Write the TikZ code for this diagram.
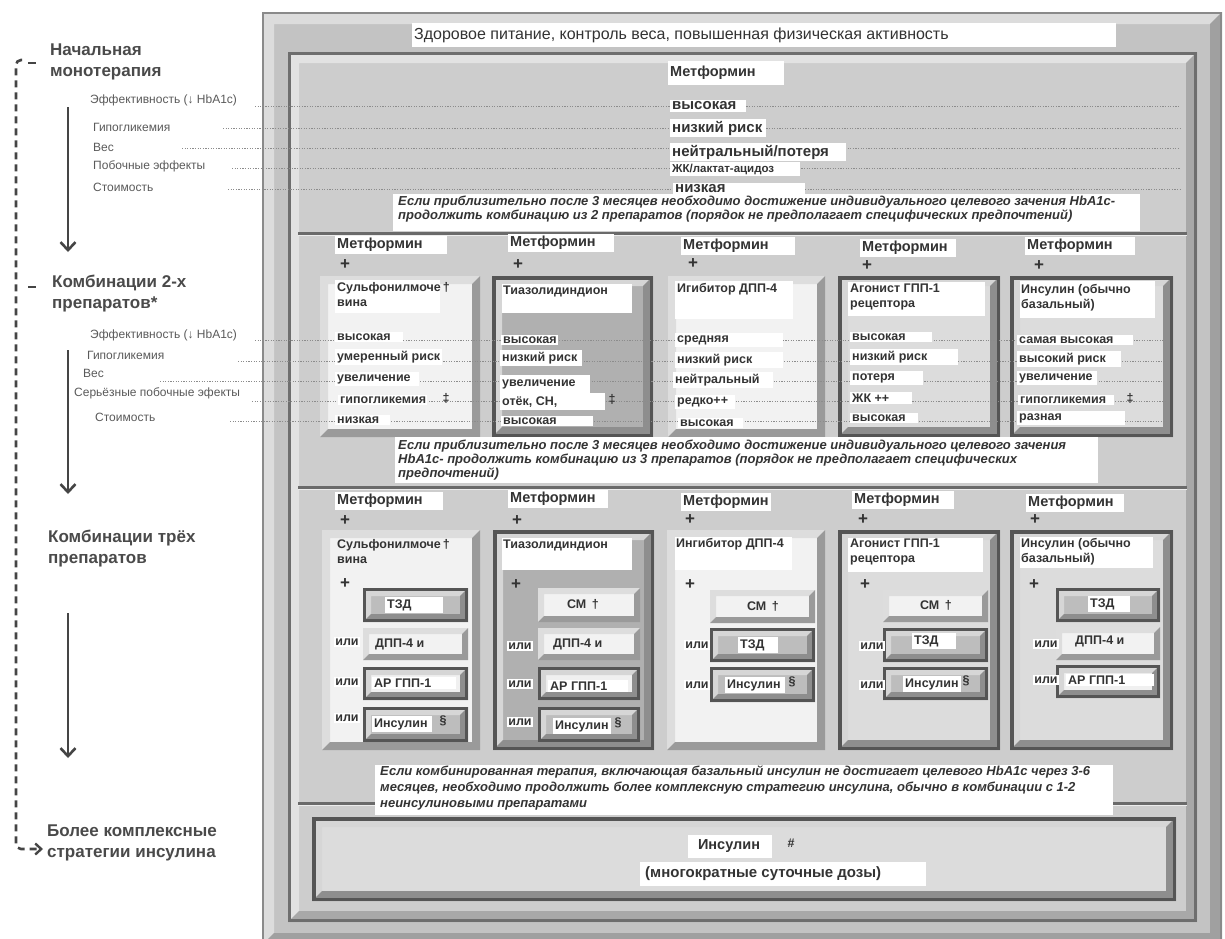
\documentclass[tikz,border=0pt]{standalone}
\usepackage{fontspec}
\setmainfont{Liberation Sans}
\usetikzlibrary{arrows.meta}
\definecolor{hdcol}{HTML}{4A4A4A}
\definecolor{lblcol}{HTML}{5A5A5A}
\definecolor{txtcol}{HTML}{333333}
\definecolor{dotcol}{HTML}{8C8C8C}
\definecolor{arrcol}{HTML}{454545}
\definecolor{ofill}{HTML}{C3C3C3}
\definecolor{olight}{HTML}{DCDCDC}
\definecolor{odark}{HTML}{A0A0A0}
\definecolor{oline}{HTML}{8A8A8A}
\definecolor{ifill}{HTML}{CDCDCD}
\definecolor{ilight}{HTML}{E2E2E2}
\definecolor{idark}{HTML}{A8A8A8}
\definecolor{iline}{HTML}{6E6E6E}
\definecolor{bxline}{HTML}{555555}
\definecolor{lbfill}{HTML}{F2F2F2}
\definecolor{lblt}{HTML}{DDDDDD}
\definecolor{lbdk}{HTML}{9A9A9A}
\definecolor{dbgray}{HTML}{B0B0B0}
\definecolor{dblight}{HTML}{DCDCDC}
\definecolor{dblt}{HTML}{D6D6D6}
\definecolor{dbdk}{HTML}{8E8E8E}
\definecolor{smgray}{HTML}{BDBDBD}
\definecolor{smwhite}{HTML}{F0F0F0}
\definecolor{sepcol}{HTML}{6A6A6A}
\newcommand{\rsHd}{\fontsize{17}{21}\selectfont\bfseries}
\newcommand{\rsLb}{\fontsize{12}{14}\selectfont}
\newcommand{\rsVf}{\fontsize{12.5}{15}\selectfont\bfseries}
\newcommand{\rsMf}{\fontsize{14.5}{17}\selectfont\bfseries}
\newcommand{\rsPf}{\fontsize{17}{17}\selectfont\bfseries}
\newcommand{\rsNf}{\fontsize{13}{14}\selectfont\bfseries\itshape}
\newcommand{\rsTf}{\fontsize{16}{18}\selectfont}
\newcommand{\rsRf}{\fontsize{15}{17}\selectfont\bfseries}
% bevel box: x1 y1 x2 y2 width light dark fill
\newcommand{\rsBvl}[8]{%
  \fill[#8] (#1,#2) rectangle (#3,#4);
  \fill[#6] (#1,#2) -- (#3,#2) -- (#3-#5,#2+#5) -- (#1+#5,#2+#5) -- (#1+#5,#4-#5) -- (#1,#4) -- cycle;
  \fill[#7] (#3,#2) -- (#3,#4) -- (#1,#4) -- (#1+#5,#4-#5) -- (#3-#5,#4-#5) -- (#3-#5,#2+#5) -- cycle;
}
\newcommand{\rsLbox}[4]{\rsBvl{#1}{#2}{#3}{#4}{8}{lblt}{lbdk}{lbfill}}
\newcommand{\rsDbox}[5]{\rsBvl{#1}{#2}{#3}{#4}{10}{dblt}{dbdk}{#5}\draw[bxline,line width=3.5pt] (#1+1.75,#2+1.75) rectangle (#3-1.75,#4-1.75);}
\newcommand{\rsLsm}[4]{\rsBvl{#1}{#2}{#3}{#4}{6}{lblt}{lbdk}{lbfill}}
\newcommand{\rsDsm}[5]{\rsBvl{#1}{#2}{#3}{#4}{8}{dblt}{dbdk}{#5}\draw[bxline,line width=3pt] (#1+1.5,#2+1.5) rectangle (#3-1.5,#4-1.5);}
\newcommand{\rsP}[4]{\fill[white] (#1,#2) rectangle (#3,#4);}
\newcommand{\rsV}[5]{\node[val] (#1) at (#2,#3) {\makebox[#4pt][l]{#5}};}
\newcommand{\rsOr}[3]{\node[orst] (#1) at (#2,#3) {или};}
\tikzset{
  hd/.style={font=\rsHd, text=hdcol, align=left, anchor=west, inner sep=0pt},
  lbl/.style={font=\rsLb, text=lblcol, anchor=west, inner sep=0pt},
  val/.style={font=\rsVf, text=txtcol, fill=white, anchor=west, inner xsep=2pt, inner ysep=2pt},
  txt/.style={font=\rsVf, text=txtcol, anchor=north west, align=left, inner sep=0pt},
  met/.style={font=\rsMf, text=txtcol, fill=white, anchor=west, inner xsep=2pt, inner ysep=2.5pt},
  pl/.style={font=\rsPf, text=txtcol, inner sep=0pt},
  orst/.style={font=\rsVf, text=txtcol, fill=white, inner xsep=1.5pt, inner ysep=2pt},
  notest/.style={font=\rsNf, text=txtcol, anchor=north west, align=left, inner sep=0pt},
  r1v/.style={font=\rsRf, text=txtcol, fill=white, anchor=west, inner xsep=2pt, inner ysep=2pt},
  dotln/.style={draw=dotcol, line width=0.9pt, dash pattern=on 1.2pt off 1.4pt},
  arr/.style={draw=arrcol, line width=2.6pt, -{Straight Barb[length=8pt,width=15pt,line width=2.6pt]}},
  dashln/.style={draw=arrcol, line width=2.6pt, dash pattern=on 7pt off 5pt},
  sepln/.style={draw=sepcol, line width=3pt},
  sym/.style={font=\rsVf, text=txtcol, inner sep=0pt},
}
\begin{document}
\begin{tikzpicture}[x=1pt,y=-1pt]
\useasboundingbox (0,0) rectangle (1225,938);
\fill[white] (0,0) rectangle (1225,938);
% ---------- frames
\rsBvl{262}{12}{1222}{945}{12}{olight}{odark}{ofill}
\draw[oline,line width=2pt] (263,13) rectangle (1221,944);
\rsBvl{288}{52}{1197}{922}{11}{ilight}{idark}{ifill}
\draw[iline,line width=3pt] (289.5,53.5) rectangle (1195.5,920.5);
% ---------- separators
\draw[sepln] (298,233) -- (1187,233);
\draw[white!85!gray,line width=1.5pt] (298,235.5) -- (1187,235.5);
\draw[sepln] (298,487) -- (1187,487);
\draw[white!85!gray,line width=1.5pt] (298,489.5) -- (1187,489.5);
\draw[sepln] (298,803) -- (1187,803);
\draw[white!85!gray,line width=1.5pt] (298,805.5) -- (1187,805.5);
% ---------- left column
\node[hd] (hd1) at (50,62) {Начальная\\монотерапия};
\node[hd] (hd2) at (52,294) {Комбинации 2-х\\препаратов*};
\node[hd] (hd3) at (48,549) {Комбинации трёх\\препаратов};
\node[hd] (hd4) at (47,843) {Более комплексные\\стратегии инсулина};
\coordinate (ds) at (22,60);
\coordinate (de) at (43,849);
\draw[dashln, rounded corners=5pt, -{Straight Barb[length=6pt,width=11pt,line width=2.4pt]}] (ds) -| (16,849) -- (de);
\draw[arrcol,line width=2.6pt] (28,63) -- (36,63);
\draw[arrcol,line width=2.6pt] (28,287) -- (36,287);
\coordinate (a1s) at (68,107); \coordinate (a1e) at (68,252);
\coordinate (a2s) at (68,350); \coordinate (a2e) at (68,494);
\coordinate (a3s) at (68,613); \coordinate (a3e) at (68,758);
\draw[arr] (a1s) -- (a1e);
\draw[arr] (a2s) -- (a2e);
\draw[arr] (a3s) -- (a3e);
\node[lbl] (lE1) at (90,100) {Эффективность (↓ HbA1c)};
\node[lbl] (lG1) at (93,127) {Гипогликемия};
\node[lbl] (lV1) at (93,147) {Вес};
\node[lbl] (lP1) at (93,166) {Побочные эффекты};
\node[lbl] (lS1) at (93,187) {Стоимость};
\node[lbl] (lE2) at (90,335) {Эффективность (↓ HbA1c)};
\node[lbl] (lG2) at (87,355) {Гипогликемия};
\node[lbl] (lV2) at (83,373) {Вес};
\node[lbl] (lP2) at (74,393) {Серьёзные побочные эфекты};
\node[lbl] (lS2) at (95,417) {Стоимость};
% ---------- row 2 boxes
\rsLbox{320}{276}{480}{437}
\rsDbox{492}{276}{653}{437}{dbgray}
\rsLbox{668}{276}{825}{437}
\rsDbox{838}{276}{1000}{437}{dblight}
\rsDbox{1010}{276}{1173}{437}{dblight}
% ---------- row 3 boxes
\rsLbox{322}{530}{480}{750}
\rsDbox{493}{530}{654}{750}{dbgray}
\rsLbox{667}{530}{825}{750}
\rsDbox{838}{530}{1000}{750}{dblight}
\rsDbox{1010}{530}{1173}{750}{dblight}
% inner boxes
\rsDsm{363}{588}{468}{622}{smgray}
\rsLsm{363}{628}{468}{660}
\rsDsm{363}{667}{468}{700}{smwhite}
\rsDsm{363}{707}{468}{742}{smgray}
\rsLsm{538}{588}{640}{622}
\rsLsm{538}{628}{640}{660}
\rsDsm{538}{667}{640}{700}{smwhite}
\rsDsm{538}{707}{640}{742}{smgray}
\rsLsm{710}{590}{815}{623}
\rsDsm{710}{628}{815}{662}{smgray}
\rsDsm{710}{667}{815}{702}{smgray}
\rsLsm{883}{590}{988}{622}
\rsDsm{883}{628}{988}{662}{smgray}
\rsDsm{883}{667}{988}{700}{smgray}
\rsDsm{1056}{588}{1160}{622}{smgray}
\rsLsm{1056}{627}{1160}{660}
\rsDsm{1056}{665}{1160}{698}{smwhite}
% insulin box
\rsDbox{312}{817}{1176}{901}{dblight}
% ---------- dotted leader lines
\draw[dotln] (255,106) -- (1180,106);
\draw[dotln] (223,128) -- (1180,128);
\draw[dotln] (182,148) -- (1180,148);
\draw[dotln] (232,168) -- (1180,168);
\draw[dotln] (228,189) -- (1180,189);
\draw[dotln] (255,340) -- (1166,340);
\draw[dotln] (238,361) -- (1166,361);
\draw[dotln] (160,381) -- (1166,381);
\draw[dotln] (252,401) -- (1166,401);
\draw[dotln] (230,421) -- (1166,421);
% ---------- top area
\node[font=\rsTf, text=txtcol, fill=white, anchor=west, inner xsep=2pt, inner ysep=5pt] (top) at (412,35) {\makebox[700pt][l]{Здоровое питание, контроль веса, повышенная физическая активность}};
\node[met, inner ysep=5pt] (m1) at (668,73) {\makebox[112pt][l]{Метформин}};
\node[r1v] (r1a) at (670,106) {\makebox[72pt][l]{высокая}};
\node[r1v] (r1b) at (670,128) {\makebox[92pt][l]{низкий риск}};
\node[r1v] (r1c) at (670,152) {\makebox[172pt][l]{нейтральный/потеря}};
\node[r1v, font=\fontsize{11.5}{13}\selectfont\bfseries] (r1d) at (670,169) {\makebox[126pt][l]{ЖК/лактат-ацидоз}};
\node[r1v] (r1e) at (673,189) {\makebox[128pt][l]{низкая}};
\rsP{393}{194}{1140}{231}
\node[notest] (n1) at (398,196) {Если приблизительно после 3 месяцев необходимо достижение индивидуального целевого зачения HbA1c-\\продолжить комбинацию из 2 препаратов (порядок не предполагает специфических предпочтений)};
% ---------- row 2 headers
\node[met] (m2a) at (335,245) {\makebox[108pt][l]{Метформин}};
\node[met] (m2b) at (508,243) {\makebox[102pt][l]{Метформин}};
\node[met] (m2c) at (681,246) {\makebox[110pt][l]{Метформин}};
\node[met] (m2d) at (860,248) {\makebox[92pt][l]{Метформин}};
\node[met] (m2e) at (1025,246) {\makebox[106pt][l]{Метформин}};
\node[pl] (p2a) at (345,265) {+};
\node[pl] (p2b) at (518,265) {+};
\node[pl] (p2c) at (693,264) {+};
\node[pl] (p2d) at (867,266) {+};
\node[pl] (p2e) at (1039,266) {+};
% row 2 titles
\rsP{335}{280}{440}{313}
\node[txt] (t2a) at (337,282) {Сульфонилмоче\,†\\вина};
\rsP{502}{284}{632}{313}
\node[txt] (t2b) at (503,286) {Тиазолидиндион};
\rsP{675}{281}{793}{319}
\node[txt] (t2c) at (677,283) {Игибитор ДПП-4};
\rsP{848}{282}{985}{316}
\node[txt] (t2d) at (850,284) {Агонист ГПП-1\\рецептора};
\rsP{1020}{281}{1155}{318}
\node[txt] (t2e) at (1021,284) {Инсулин (обычно\\базальный)};
% row 2 values
\rsV{v2a1}{335}{337}{64}{высокая}
\rsV{v2a2}{335}{357}{103}{умеренный риск}
\rsV{v2a3}{335}{379}{80}{увеличение}
\rsV{v2a4}{338}{400}{85}{гипогликемия}
\node[sym] (d2a) at (446,398) {‡};
\rsV{v2a5}{335}{420}{51}{низкая}
\rsV{v2b1}{501}{340}{53}{высокая}
\rsV{v2b2}{500}{358}{78}{низкий риск}
\rsP{500}{375}{590}{393}
\node[txt, anchor=west] (v2b3) at (502,384) {увеличение};
\rsP{500}{393}{605}{410}
\node[txt, anchor=west] (v2b4) at (502,402) {отёк, СН,};
\node[sym] (d2b) at (612,399) {‡};
\rsV{v2b5}{501}{421}{88}{высокая}
\rsV{v2c1}{675}{340}{104}{средняя}
\rsV{v2c2}{675}{360}{104}{низкий риск}
\rsV{v2c3}{673}{380}{96}{нейтральный}
\rsV{v2c4}{675}{402}{56}{редко++}
\rsV{v2c5}{678}{423}{61}{высокая}
\rsV{v2d1}{850}{337}{78}{высокая}
\rsV{v2d2}{850}{357}{104}{низкий риск}
\rsV{v2d3}{850}{378}{69}{потеря}
\rsV{v2d4}{850}{398}{58}{ЖК ++}
\rsV{v2d5}{850}{418}{64}{высокая}
\rsV{v2e1}{1017}{340}{112}{самая высокая}
\rsV{v2e2}{1017}{359}{100}{высокий риск}
\rsV{v2e3}{1017}{378}{76}{увеличение}
\rsV{v2e4}{1018}{400}{92}{гипогликемия}
\node[sym] (d2e) at (1130,398) {‡};
\rsV{v2e5}{1017}{418}{104}{разная}
% note 2
\rsP{395}{437}{1098}{483}
\node[notest] (n2) at (398,440) {Если приблизительно после 3 месяцев необходимо достижение индивидуального целевого зачения\\HbA1c- продолжить комбинацию из 3 препаратов (порядок не предполагает специфических\\предпочтений)};
% ---------- row 3 headers
\node[met] (m3a) at (335,501) {\makebox[104pt][l]{Метформин}};
\node[met] (m3b) at (508,499) {\makebox[96pt][l]{Метформин}};
\node[met] (m3c) at (681,502) {\makebox[86pt][l]{Метформин}};
\node[met] (m3d) at (852,500) {\makebox[98pt][l]{Метформин}};
\node[met] (m3e) at (1026,503) {\makebox[94pt][l]{Метформин}};
\node[pl] (p3a) at (345,521) {+};
\node[pl] (p3b) at (517,521) {+};
\node[pl] (p3c) at (690,520) {+};
\node[pl] (p3d) at (863,520) {+};
\node[pl] (p3e) at (1035,520) {+};
% row 3 titles
\node[txt] (t3a) at (337,539) {Сульфонилмоче\,†\\вина};
\rsP{502}{538}{632}{570}
\node[txt] (t3b) at (503,540) {Тиазолидиндион};
\rsP{675}{537}{792}{570}
\node[txt] (t3c) at (676,538) {Ингибитор ДПП-4};
\rsP{848}{538}{983}{572}
\node[txt] (t3d) at (850,539) {Агонист ГПП-1\\рецептора};
\rsP{1020}{537}{1153}{568}
\node[txt] (t3e) at (1021,538) {Инсулин (обычно\\базальный)};
\node[pl] (q3a) at (345,584) {+};
\node[pl] (q3b) at (516,585) {+};
\node[pl] (q3c) at (690,585) {+};
\node[pl] (q3d) at (865,585) {+};
\node[pl] (q3e) at (1034,585) {+};
% inner texts
\rsV{i1a}{385}{605}{54}{ТЗД}
\node[txt, anchor=west] (i1b) at (375,644) {ДПП-4 и};
\rsV{i1c}{372}{683}{80}{АР ГПП-1}
\rsV{i1d}{372}{724}{56}{Инсулин}
\node[sym] (s1d) at (443,721) {§};
\node[txt, anchor=center] (i2a) at (583,604) {СМ \,†};
\node[txt, anchor=west] (i2b) at (553,644) {ДПП-4 и};
\rsV{i2c}{548}{686}{76}{АР ГПП-1}
\rsV{i2d}{553}{726}{54}{Инсулин}
\node[sym] (s2d) at (618,723) {§};
\node[txt, anchor=center] (i3a) at (763,606) {СМ \,†};
\rsV{i3b}{738}{645}{36}{ТЗД}
\rsV{i3c}{725}{685}{56}{Инсулин}
\node[sym] (s3c) at (792,682) {§};
\node[txt, anchor=center] (i4a) at (936,605) {СМ \,†};
\rsV{i4b}{912}{641}{40}{ТЗД}
\rsV{i4c}{903}{684}{54}{Инсулин}
\node[sym] (s4c) at (966,681) {§};
\rsV{i5a}{1088}{604}{38}{ТЗД}
\node[txt, anchor=west] (i5b) at (1075,641) {ДПП-4 и};
\rsV{i5c}{1066}{680}{84}{АР ГПП-1}
\rsOr{o1a}{347}{642}
\rsOr{o1b}{347}{682}
\rsOr{o1c}{347}{718}
\rsOr{o2a}{520}{646}
\rsOr{o2b}{520}{684}
\rsOr{o2c}{520}{722}
\rsOr{o3a}{697}{645}
\rsOr{o3b}{697}{685}
\rsOr{o4a}{872}{646}
\rsOr{o4b}{872}{685}
\rsOr{o5a}{1046}{644}
\rsOr{o5b}{1046}{680}
% note 3
\rsP{375}{765}{1113}{815}
\node[notest, font=\fontsize{13}{16}\selectfont\bfseries\itshape] (n3) at (380,766) {Если комбинированная терапия, включающая базальный инсулин не достигает целевого HbA1c через 3-6\\месяцев, необходимо продолжить  более комплексную стратегию инсулина, обычно в комбинации с 1-2\\неинсулиновыми препаратами};
% insulin box texts
\rsP{688}{835}{772}{858}
\node[font=\rsMf, text=txtcol, inner sep=0pt] (ins) at (729,846) {Инсулин};
\node[sym] (insh) at (791,843) {\#};
\rsP{640}{862}{926}{886}
\node[font=\rsRf, text=txtcol, anchor=west, inner sep=0pt] (mult) at (645,874) {(многократные суточные дозы)};
\end{tikzpicture}
\end{document}
